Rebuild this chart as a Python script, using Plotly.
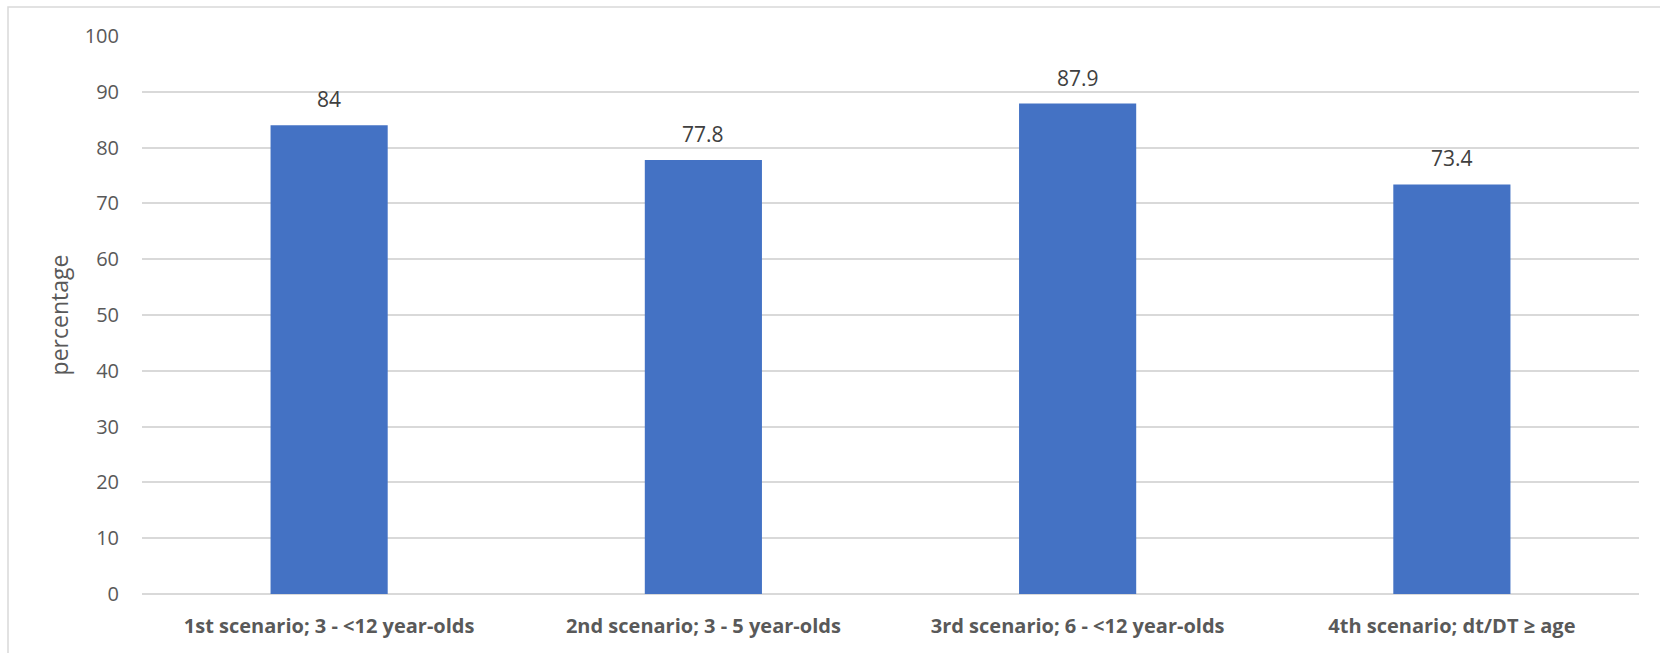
import plotly.graph_objects as go

categories = ["1st scenario; 3 - <12 year-olds", "2nd scenario; 3 - 5 year-olds",
              "3rd scenario; 6 - <12 year-olds", "4th scenario; dt/DT \u2265 age"]
values = [84, 77.8, 87.9, 73.4]
y_ticks = list(range(0, 101, 10))

W, H = 1660, 653
ml, mr, mt, mb = 142, 21, 36, 59
pw, ph = W - ml - mr, H - mt - mb

fig = go.Figure()
fig.add_trace(go.Bar(x=categories, y=values, marker=dict(color="#4472C4", line=dict(width=0)),
                     hoverinfo="skip"))

for c, v in zip(categories, values):
    fig.add_annotation(x=c, y=v, text=str(v), showarrow=False, yshift=26,
                       font=dict(family="Open Sans", size=21, color="#404040"))

# outer chart border
fig.add_shape(type="rect", xref="paper", yref="paper",
              x0=(8 - ml) / pw, x1=(W + 5 - ml) / pw,
              y0=-(H + 10 - (H - mb)) / ph, y1=1 + (mt - 7) / ph,
              line=dict(color="#d9d9d9", width=1.5), fillcolor="rgba(0,0,0,0)", layer="below")

fig.update_layout(
    width=W, height=H,
    margin=dict(l=ml, r=mr, t=mt, b=mb, autoexpand=False),
    paper_bgcolor="white", plot_bgcolor="white",
    bargap=0.687, showlegend=False,
    font=dict(family="Open Sans", color="#595959"),
    xaxis=dict(showgrid=False, showline=False, ticks="", zeroline=False,
               tickfont=dict(family="Open Sans", size=20, color="#595959", weight="bold"),
               ticklabelstandoff=18),
    yaxis=dict(range=[0, 100], tickvals=y_ticks, showgrid=True, gridcolor="#d9d9d9", gridwidth=1.5,
               zeroline=True, zerolinecolor="#d9d9d9", zerolinewidth=1.5, showline=False, ticks="",
               tickfont=dict(family="Open Sans", size=20, color="#595959"),
               ticklabelstandoff=22,
               title=dict(text="percentage", font=dict(family="Open Sans", size=23, color="#595959"),
                          standoff=9)),
)

fig.write_html("out.html")
